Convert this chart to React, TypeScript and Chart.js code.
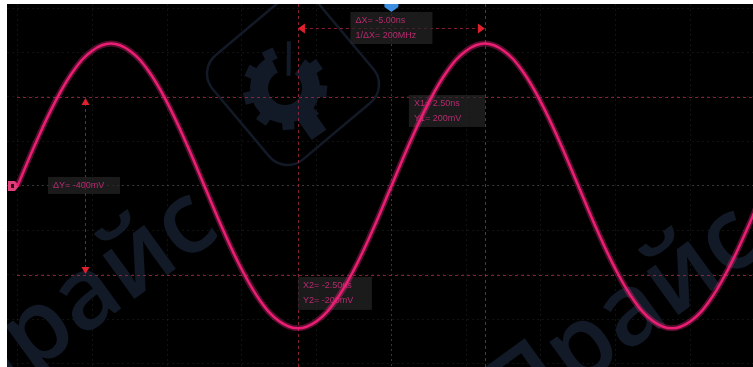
import React, { useEffect, useRef } from "react";
import { Chart, registerables } from "chart.js";
Chart.register(...registerables);

// time axis (ns) and measured voltage (mV)
const timeNs = [-10, -9.5, -9, -8.5, -8, -7.5, -7, -6.5, -6, -5.5, -5, -4.5, -4, -3.5, -3, -2.5, -2, -1.5, -1, -0.5, 0, 0.5, 1, 1.5, 2, 2.5, 3, 3.5, 4, 4.5, 5, 5.5, 6, 6.5, 7, 7.5, 8, 8.5, 9, 9.5, 10];
const voltageMv = [0, 99, 188, 259, 304, 320, 304, 259, 188, 99, 0, -99, -188, -259, -304, -320, -304, -259, -188, -99, 0, 99, 188, 259, 304, 320, 304, 259, 188, 99, 0, -99, -188, -259, -304, -320, -304, -259, -188, -99, 0];

const xRange = [-10.28, 9.67];
const yRange = [-407, 409];
const xDivNs = 2;
const yDivMv = 100;

const cursorX1 = 2.5;
const cursorX2 = -2.5;
const cursorY1 = 200;
const cursorY2 = -200;

const deltaXLines = ["ΔX= -5.00ns", "1/ΔX= 200MHz"];
const cursor1Lines = ["X1= 2.50ns", "Y1= 200mV"];
const cursor2Lines = ["X2= -2.50ns", "Y2= -200mV"];
const deltaYLine = "ΔY= -400mV";
const watermarkWord = "Прайс";

const TRACE = "#e8196f";
const CURSOR = "rgba(180,40,65,0.75)";
const ARROW = "#e0202c";
const LABEL_BG = "rgba(38,38,38,0.7)";
const LABEL_TXT = "#b82a70";
const WM = "#131a27";

function deg(a: number) {
  return (a * Math.PI) / 180;
}

function drawWatermark(ctx: CanvasRenderingContext2D) {
  ctx.save();
  ctx.strokeStyle = WM;
  ctx.fillStyle = WM;
  // rounded diamond
  ctx.save();
  ctx.translate(286, 75);
  ctx.rotate(deg(-40));
  ctx.lineWidth = 2.5;
  ctx.beginPath();
  (ctx as any).roundRect(-68, -68, 136, 136, 24);
  ctx.stroke();
  ctx.restore();
  // gear
  ctx.save();
  ctx.translate(278, 84);
  ctx.rotate(deg(-35));
  const teeth = 9;
  for (let i = 0; i < teeth; i++) {
    const a = (i / teeth) * Math.PI * 2;
    if (a > deg(280) && a < deg(340)) continue;
    ctx.save();
    ctx.rotate(a);
    ctx.fillRect(30, -6, 12, 12);
    ctx.restore();
  }
  ctx.beginPath();
  ctx.arc(0, 0, 35, deg(-20), deg(-80) + Math.PI * 2, false);
  ctx.arc(0, 0, 17, deg(-80) + Math.PI * 2, deg(-20), true);
  ctx.closePath();
  ctx.fill();
  ctx.lineWidth = 4;
  ctx.beginPath();
  ctx.moveTo(10, -8);
  ctx.lineTo(30, -36);
  ctx.stroke();
  ctx.fillRect(-8, 30, 18, 28);
  ctx.restore();
  // words
  ctx.font = "600 100px 'Open Sans', 'DejaVu Sans', sans-serif";
  ctx.textAlign = "right";
  ctx.textBaseline = "middle";
  const spots = [
    [192, 198],
    [736, 214],
  ];
  for (const [px, py] of spots) {
    ctx.save();
    ctx.translate(px, py);
    ctx.rotate(deg(-36));
    ctx.fillText(watermarkWord, 0, 12);
    ctx.restore();
  }
  ctx.restore();
}

function labelBox(ctx: CanvasRenderingContext2D, x: number, y: number, w: number, h: number, lines: string[]) {
  ctx.fillStyle = LABEL_BG;
  ctx.fillRect(x, y, w, h);
  ctx.fillStyle = LABEL_TXT;
  ctx.font = "9px 'Liberation Sans', Arial, sans-serif";
  ctx.textAlign = "left";
  ctx.textBaseline = "middle";
  const step = lines.length > 1 ? 15 : 0;
  const start = y + h / 2 - (step * (lines.length - 1)) / 2;
  lines.forEach((t, i) => ctx.fillText(t, x + 5, start + i * step));
}

function tri(ctx: CanvasRenderingContext2D, pts: number[][]) {
  ctx.beginPath();
  ctx.moveTo(pts[0][0], pts[0][1]);
  for (let i = 1; i < pts.length; i++) ctx.lineTo(pts[i][0], pts[i][1]);
  ctx.closePath();
  ctx.fill();
}

const scopePlugin = {
  id: "scope",
  beforeDraw(chart: any) {
    const { ctx, width, height } = chart;
    ctx.save();
    ctx.fillStyle = "#000";
    ctx.fillRect(0, 0, width, height);
    ctx.restore();
  },
  beforeDatasetsDraw(chart: any) {
    const { ctx, width, height } = chart;
    const xs = chart.scales.x;
    const ys = chart.scales.y;
    ctx.save();
    drawWatermark(ctx);

    const x1 = xs.getPixelForValue(cursorX1);
    const x2 = xs.getPixelForValue(cursorX2);
    const x0 = xs.getPixelForValue(0);
    const y1 = ys.getPixelForValue(cursorY1);
    const y2 = ys.getPixelForValue(cursorY2);
    const y0 = ys.getPixelForValue(0);

    // cursor lines
    ctx.strokeStyle = CURSOR;
    ctx.lineWidth = 1;
    ctx.setLineDash([3, 3]);
    for (const px of [x1, x2]) {
      ctx.beginPath();
      ctx.moveTo(Math.round(px) + 0.5, 0);
      ctx.lineTo(Math.round(px) + 0.5, height);
      ctx.stroke();
    }
    for (const py of [y1, y2]) {
      ctx.beginPath();
      ctx.moveTo(10, Math.round(py) + 0.5);
      ctx.lineTo(width, Math.round(py) + 0.5);
      ctx.stroke();
    }
    // delta X arrow
    const ay = 24.5;
    ctx.beginPath();
    ctx.moveTo(x2 + 6, ay);
    ctx.lineTo(x1 - 6, ay);
    ctx.stroke();
    // delta Y arrow
    const ax = 78.5;
    ctx.beginPath();
    ctx.moveTo(ax, y1 + 6);
    ctx.lineTo(ax, y2 - 6);
    ctx.stroke();
    ctx.setLineDash([]);
    ctx.fillStyle = ARROW;
    tri(ctx, [[x2, ay], [x2 + 7, ay - 5], [x2 + 7, ay + 5]]);
    tri(ctx, [[x1, ay], [x1 - 7, ay - 5], [x1 - 7, ay + 5]]);
    tri(ctx, [[ax, y1 + 1], [ax - 4, y1 + 8], [ax + 4, y1 + 8]]);
    tri(ctx, [[ax, y2 - 1], [ax - 4, y2 - 8], [ax + 4, y2 - 8]]);

    // labels
    labelBox(ctx, x0 - 41, 8, 82, 32, deltaXLines);
    labelBox(ctx, x1 - 76, y1 - 2, 76, 32, cursor1Lines);
    labelBox(ctx, x2, y2 + 2, 74, 33, cursor2Lines);
    labelBox(ctx, 41, y0 - 9, 72, 17, [deltaYLine]);

    // trigger marker
    ctx.fillStyle = "#3c8fe0";
    tri(ctx, [[x0 - 7, 0], [x0 + 7, 0], [x0 + 7, 3], [x0, 8], [x0 - 7, 3]]);
    // channel marker
    ctx.fillStyle = "#e0407a";
    tri(ctx, [[1, y0 - 5], [8, y0 - 5], [12, y0], [8, y0 + 5], [1, y0 + 5]]);
    ctx.fillStyle = "#300818";
    ctx.fillRect(4, y0 - 2, 3, 4);
    ctx.restore();
  },
};

export default function App() {
  const ref = useRef<HTMLCanvasElement | null>(null);
  useEffect(() => {
    if (!ref.current) return;
    const pts = timeNs.map((t, i) => ({ x: t, y: voltageMv[i] }));
    const gridColor = (c: any) =>
      c.tick && c.tick.value === 0 ? "rgba(255,255,255,0.22)" : "rgba(255,255,255,0.07)";
    const chart = new Chart(ref.current, {
      type: "line",
      data: {
        datasets: [
          {
            data: pts,
            borderColor: "rgba(240,40,125,0.35)",
            borderWidth: 6,
            pointRadius: 0,
            tension: 0.4,
          },
          {
            data: pts,
            borderColor: TRACE,
            borderWidth: 2.5,
            pointRadius: 0,
            tension: 0.4,
          },
        ],
      },
      options: {
        responsive: false,
        maintainAspectRatio: false,
        animation: false,
        devicePixelRatio: 1,
        layout: { padding: 0 },
        plugins: { legend: { display: false }, tooltip: { enabled: false } },
        scales: {
          x: {
            type: "linear",
            min: xRange[0],
            max: xRange[1],
            ticks: { display: false, stepSize: xDivNs, includeBounds: false },
            grid: { color: gridColor, drawTicks: false, lineWidth: 1 },
            border: { display: false, dash: [2, 3] },
          },
          y: {
            type: "linear",
            min: yRange[0],
            max: yRange[1],
            ticks: { display: false, stepSize: yDivMv, includeBounds: false },
            grid: { color: gridColor, drawTicks: false, lineWidth: 1 },
            border: { display: false, dash: [2, 3] },
          },
        },
      },
      plugins: [scopePlugin],
    } as any);
    return () => chart.destroy();
  }, []);
  return (
    <div style={{ position: "fixed", left: 0, top: 0, width: 753, height: 367, background: "#fff", overflow: "hidden" }}>
      <canvas ref={ref} width={746} height={363} style={{ position: "absolute", left: 7, top: 4, width: 746, height: 363 }} />
    </div>
  );
}
